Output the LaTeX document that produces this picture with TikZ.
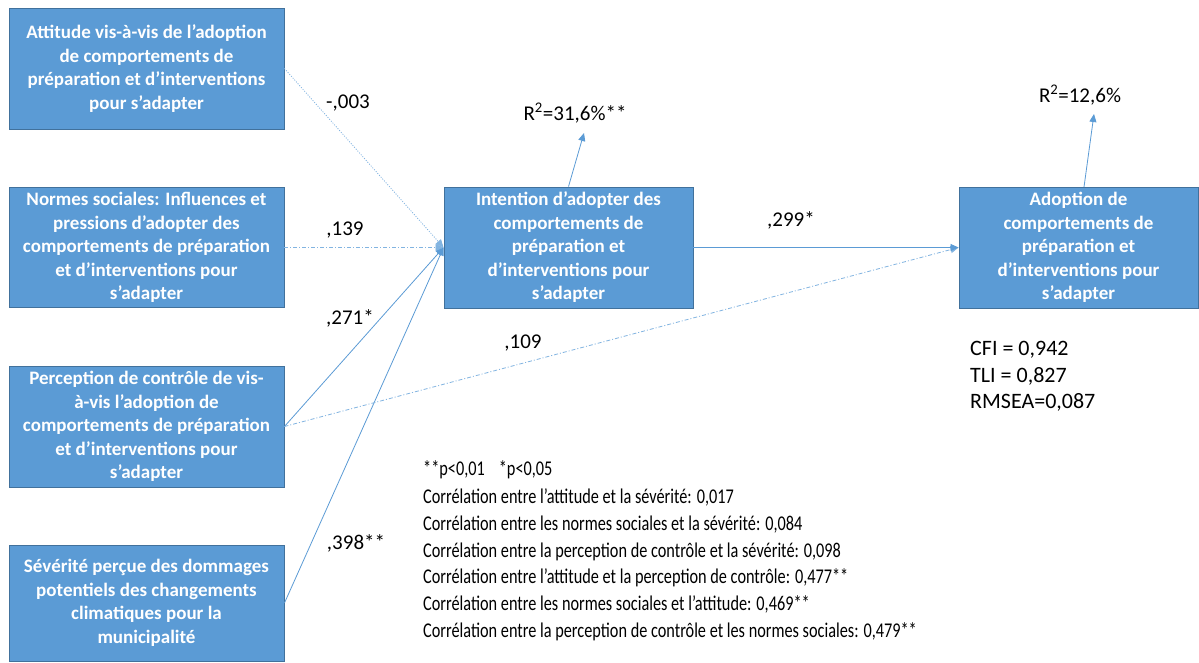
\documentclass[tikz,border=0pt]{standalone}
\usepackage{fontspec}
\setmainfont{Carlito}
\newfontfamily\condfont[FakeStretch=0.775]{Carlito}
\usetikzlibrary{arrows.meta,calc}
\definecolor{boxblue}{RGB}{91,155,213}
\definecolor{boxedge}{RGB}{65,113,156}
\definecolor{linkblue}{RGB}{91,155,213}
\definecolor{lightlink}{RGB}{130,180,225}
\tikzset{
  varbox/.style={rectangle, fill=boxblue, draw=boxedge, line width=0.9pt,
    text=white, align=center, inner sep=0pt,
    font=\fontsize{19}{23.5}\selectfont\bfseries},
  link/.style={draw=linkblue, line width=0.8pt, -{Triangle[length=8pt,width=7pt]}},
  dotlink/.style={link, draw=lightlink, dash pattern=on 1pt off 1.5pt},
  dashdotlink/.style={link, draw=lightlink, dash pattern=on 4pt off 2pt on 1pt off 2pt},
  coef/.style={font=\fontsize{21}{25}\selectfont, text=black, inner sep=0pt},
  note/.style={font=\condfont\fontsize{21}{27}\selectfont, text=black, inner sep=0pt, anchor=base west},
  fit/.style={font=\fontsize{22}{27}\selectfont, text=black, inner sep=0pt, anchor=base west}
}
\begin{document}
\begin{tikzpicture}[x=1pt,y=-1pt]
\useasboundingbox (0,0) rectangle (1199,662);
\fill[white] (0,0) rectangle (1199,662);

\node[varbox, minimum width=275pt, minimum height=121pt] (A) at (146.5,68.5)
  {Attitude vis-à-vis de l’adoption\\de comportements de\\préparation et d’interventions\\pour s’adapter};
\node[varbox, minimum width=275pt, minimum height=120pt] (B) at (146.5,247.5)
  {Normes sociales: Influences et\\pressions d’adopter des\\comportements de préparation\\et d’interventions pour\\s’adapter};
\node[varbox, minimum width=275pt, minimum height=121pt] (C) at (146.5,426.5)
  {Perception de contrôle de vis-\\à-vis l’adoption de\\comportements de préparation\\et d’interventions pour\\s’adapter};
\node[varbox, minimum width=275pt, minimum height=116pt] (D) at (146.5,603)
  {Sévérité perçue des dommages\\potentiels des changements\\climatiques pour la\\municipalité};
\node[varbox, minimum width=249pt, minimum height=121pt] (I) at (568.5,247.5)
  {Intention d’adopter des\\comportements de\\préparation et\\d’interventions pour\\s’adapter};
\node[varbox, minimum width=239pt, minimum height=121pt] (Ad) at (1078.5,247.5)
  {Adoption de\\comportements de\\préparation et\\d’interventions pour\\s’adapter};

\coordinate (r1) at (584,133);
\coordinate (a2s) at (1084,187);
\coordinate (r2) at (1094,114);

\draw[dotlink] (A.east) -- (I.west);
\draw[dashdotlink] (B.east) -- (I.west);
\draw[link] (C.east) -- (I.west);
\draw[link] (D.east) -- (I.west);
\draw[dashdotlink] (C.east) -- (Ad.west);
\draw[link] (I.east) -- (Ad.west);
\draw[link] (I.north) -- (r1);
\draw[link] (a2s) -- (r2);

\node[coef] (c1) at (348,103) {-,003};
\node[coef] (c2) at (345,230) {,139};
\node[coef] (c3) at (350,318) {,271*};
\node[coef] (c4) at (356,543) {,398**};
\node[coef] (c5) at (523,343) {,109};
\node[coef] (c6) at (791,220) {,299*};
\node[coef] (rs1) at (575,113) {R\textsuperscript{2}=31,6\%**};
\node[coef] (rs2) at (1080,95) {R\textsuperscript{2}=12,6\%};

\node[fit] (f1) at (970,355) {CFI = 0,942};
\node[fit] (f2) at (970,382) {TLI = 0,827};
\node[fit] (f3) at (970,408) {RMSEA=0,087};

\node[note] (n0) at (423,475) {**p<0,01\hspace{14pt}*p<0,05};
\node[note] (n1) at (423,503) {Corrélation entre l’attitude et la sévérité: 0,017};
\node[note] (n2) at (423,530) {Corrélation entre les normes sociales et la sévérité: 0,084};
\node[note] (n3) at (423,557) {Corrélation entre la perception de contrôle et la sévérité: 0,098};
\node[note] (n4) at (423,583) {Corrélation entre l’attitude et la perception de contrôle: 0,477**};
\node[note] (n5) at (423,610) {Corrélation entre les normes sociales et l’attitude: 0,469**};
\node[note] (n6) at (423,637) {Corrélation entre la perception de contrôle et les normes sociales: 0,479**};
\end{tikzpicture}
\end{document}
